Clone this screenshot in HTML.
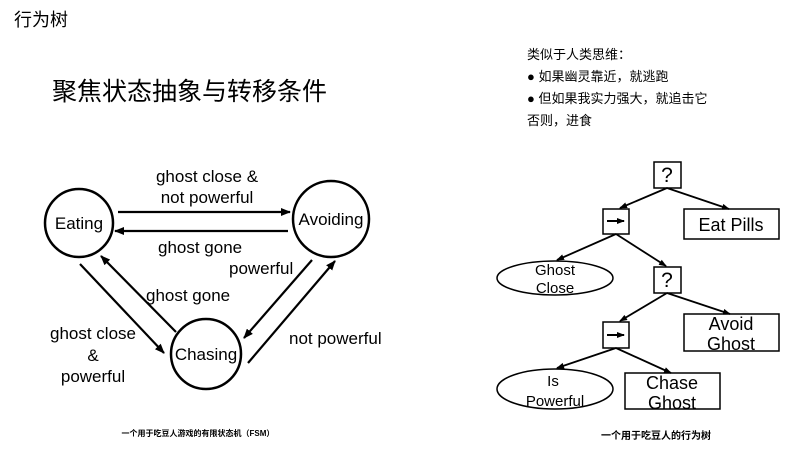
<!DOCTYPE html>
<html><head><meta charset="utf-8"><style>
html,body{margin:0;padding:0;background:#fff;}
svg{display:block;}
text{font-family:"Liberation Sans","Noto Sans CJK SC",sans-serif;fill:#000;}
</style></head><body>
<svg width="812" height="456" viewBox="0 0 812 456" xmlns="http://www.w3.org/2000/svg">
<defs>
<marker id="a" markerWidth="10" markerHeight="8" refX="9" refY="4" orient="auto" markerUnits="userSpaceOnUse">
<path d="M0,0 L10,4 L0,8 z" fill="#000"/></marker>
<marker id="b" markerWidth="8" markerHeight="6" refX="7" refY="3" orient="auto" markerUnits="userSpaceOnUse">
<path d="M0,0 L8,3 L0,6 z" fill="#000"/></marker>
</defs>
<text x="14" y="26" font-size="18">行为树</text>
<text x="52" y="100" font-size="25">聚焦状态抽象与转移条件</text>
<g font-size="13">
<text x="527" y="59">类似于人类思维：</text>
<text x="527" y="81">● 如果幽灵靠近，就逃跑</text>
<text x="527" y="103">● 但如果我实力强大，就追击它</text>
<text x="527" y="125">否则，进食</text>
</g>
<!-- FSM -->
<g fill="none" stroke="#000" stroke-width="2.5">
<circle cx="79" cy="223" r="34"/>
<circle cx="331" cy="219" r="38"/>
<circle cx="206" cy="354" r="35"/>
</g>
<g stroke="#000" stroke-width="2.2" fill="none">
<line x1="118" y1="212" x2="290" y2="212" marker-end="url(#a)"/>
<line x1="288" y1="231" x2="115" y2="231" marker-end="url(#a)"/>
<line x1="80" y1="264" x2="164" y2="353" marker-end="url(#a)"/>
<line x1="176" y1="332" x2="101" y2="256" marker-end="url(#a)"/>
<line x1="312" y1="260" x2="244" y2="338" marker-end="url(#a)"/>
<line x1="248" y1="363" x2="335" y2="261" marker-end="url(#a)"/>
</g>
<g font-size="17">
<text x="79" y="229" text-anchor="middle">Eating</text>
<text x="331" y="225" text-anchor="middle">Avoiding</text>
<text x="206" y="360" text-anchor="middle">Chasing</text>
</g>
<g font-size="17">
<text x="207" y="182" text-anchor="middle">ghost close &amp;</text>
<text x="207" y="203" text-anchor="middle">not powerful</text>
<text x="158" y="253">ghost gone</text>
<text x="229" y="274">powerful</text>
<text x="146" y="301">ghost gone</text>
<text x="93" y="339" text-anchor="middle">ghost close</text>
<text x="93" y="361" text-anchor="middle">&amp;</text>
<text x="93" y="382" text-anchor="middle">powerful</text>
<text x="289" y="344">not powerful</text>
</g>
<text x="198" y="436" font-size="8" font-weight="bold" text-anchor="middle">一个用于吃豆人游戏的有限状态机（FSM）</text>
<!-- BT -->
<g stroke="#000" stroke-width="1.5" fill="none">
<rect x="654" y="162" width="27" height="26"/>
<rect x="603" y="209" width="26" height="25"/>
<rect x="684" y="209" width="95" height="30"/>
<ellipse cx="555" cy="278" rx="58" ry="17"/>
<rect x="654" y="267" width="27" height="26"/>
<rect x="684" y="314" width="95" height="37"/>
<rect x="603" y="322" width="26" height="26"/>
<ellipse cx="555" cy="389" rx="58" ry="20"/>
<rect x="625" y="373" width="95" height="36"/>
</g>
<g stroke="#000" stroke-width="1.8">
<line x1="667" y1="188" x2="620" y2="208" marker-end="url(#b)"/>
<line x1="667" y1="188" x2="729" y2="209" marker-end="url(#b)"/>
<line x1="616" y1="234" x2="557" y2="260" marker-end="url(#b)"/>
<line x1="616" y1="234" x2="666" y2="266" marker-end="url(#b)"/>
<line x1="667" y1="293" x2="620" y2="321" marker-end="url(#b)"/>
<line x1="667" y1="293" x2="730" y2="314" marker-end="url(#b)"/>
<line x1="616" y1="348" x2="557" y2="368" marker-end="url(#b)"/>
<line x1="616" y1="348" x2="671" y2="373" marker-end="url(#b)"/>
<line x1="607" y1="221" x2="624" y2="221" marker-end="url(#b)" stroke-width="2"/>
<line x1="607" y1="335" x2="624" y2="335" marker-end="url(#b)" stroke-width="2"/>
</g>
<g font-size="18" text-anchor="middle">
<text x="667" y="182" font-size="21">?</text>
<text x="667" y="287" font-size="21">?</text>
<text x="731" y="231">Eat Pills</text>
<text x="555" y="275" font-size="15">Ghost</text>
<text x="555" y="293" font-size="15">Close</text>
<text x="731" y="330">Avoid</text>
<text x="731" y="350">Ghost</text>
<text x="553" y="386" font-size="15">Is</text>
<text x="555" y="406" font-size="15">Powerful</text>
<text x="672" y="389">Chase</text>
<text x="672" y="409">Ghost</text>
</g>
<text x="656" y="439" font-size="10" font-weight="bold" text-anchor="middle">一个用于吃豆人的行为树</text>
</svg>
</body></html>
